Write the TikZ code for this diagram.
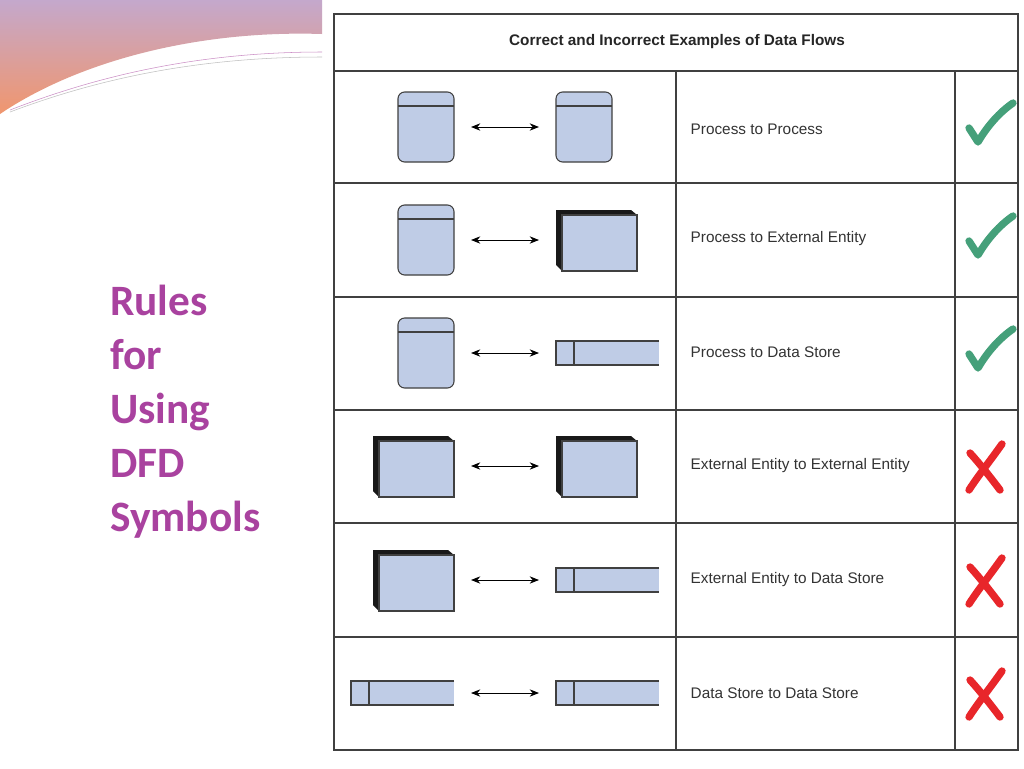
\documentclass[tikz,border=0pt]{standalone}
\usepackage{fontspec}
\setmainfont{Liberation Sans}
\newfontfamily\calfont{Carlito}
\usetikzlibrary{arrows.meta}
\definecolor{boxblue}{HTML}{BFCCE6}
\definecolor{okgreen}{HTML}{45A07A}
\definecolor{badred}{HTML}{E8262A}
\definecolor{ttl}{HTML}{A9429F}
\newcommand\procshape[2]{\draw[proc] (398,#1-35) rectangle (454,#1+35); \draw[black!75,line width=0.8pt] (398,#1-21) -- (454,#1-21);
 \node[inner sep=0] (#2) at (426,#1) {};}
\newcommand\entshape[3]{\fill[black!90] (#1-6,#2-30) -- (#1+69,#2-30) -- (#1+75,#2-25) -- (#1+75,#2+31) -- (#1,#2+31) -- (#1-6,#2+25) -- cycle;
 \draw[black!75,line width=0.8pt,fill=boxblue] (#1,#2-25) rectangle (#1+75,#2+31); \node[inner sep=0] (#3) at (#1+37,#2) {};}
\newcommand\dstore[3]{\fill[boxblue] (#1,#2-12) rectangle (#1+103,#2+12);
 \draw[black!75,line width=0.8pt] (#1+103,#2-12) -- (#1,#2-12) -- (#1,#2+12) -- (#1+103,#2+12); \draw[black!75,line width=0.8pt] (#1+18,#2-12) -- (#1+18,#2+12);
 \node[inner sep=0] (#3) at (#1+50,#2) {};}
\begin{document}
\begin{tikzpicture}[x=0.75pt,y=-0.75pt,
  proc/.style={draw=black!75,line width=0.8pt,fill=boxblue,rounded corners=5pt},
  flow/.style={<->,>={Stealth[length=7pt,width=5.5pt]},line width=0.7pt},
  lbl/.style={anchor=west,font=\fontsize{11.5}{13}\selectfont,text=black!80},
  grid/.style={draw=black!75,line width=0.8pt},
  chk/.style={draw=okgreen,line width=5.5pt,line cap=round,line join=round},
  crs/.style={draw=badred,line width=5.5pt,line cap=round}]
\useasboundingbox (0,0) rectangle (1024,768);
\fill[white] (0,0) rectangle (1024,768);
% decoration
\shade[top color={rgb,255:red,196;green,168;blue,204},bottom color={rgb,255:red,240;green,150;blue,110}]
 (0,0) -- (322,0) -- (322,34) .. controls (200,30) and (80,60) .. (0,114) -- cycle;
\draw[ttl!60,line width=0.4pt] (10,110) .. controls (100,75) and (200,52) .. (322,52);
\draw[gray!50,line width=0.4pt] (10,112) .. controls (100,78) and (200,57) .. (322,57);
% title
\node[anchor=north west,font=\calfont\bfseries\fontsize{32.5}{40.5}\selectfont,text=ttl,align=left,inner sep=0] (title) at (110,285)
 {Rules\\for\\Using\\DFD\\Symbols};
% table
\draw[grid] (334,14) rectangle (1018,750);
\foreach \y in {71,183,297,410,523,637} \draw[grid] (334,\y) -- (1018,\y);
\draw[grid] (676,71) -- (676,750);
\draw[grid] (955,71) -- (955,750);
\node[font=\bfseries\fontsize{11.5}{13}\selectfont,text=black!85] (hdr) at (677,42) {Correct and Incorrect Examples of Data Flows};
% shapes
\procshape{127}{a1}
\draw[proc] (556,92) rectangle (612,162); \draw[black!75,line width=0.8pt] (556,106) -- (612,106);
\node[inner sep=0] (b1) at (584,127) {};
\procshape{240}{a2} \entshape{562}{240}{b2}
\procshape{353}{a3} \dstore{556}{353}{b3}
\entshape{379}{466}{a4} \entshape{562}{466}{b4}
\entshape{379}{580}{a5} \dstore{556}{580}{b5}
\dstore{351}{693}{a6} \dstore{556}{693}{b6}
\foreach \y/\n in {127/1,240/2,353/3,466/4,580/5,693/6}{
 \coordinate (l\n) at (471,\y); \coordinate (r\n) at (539,\y); \draw[flow] (l\n) -- (r\n);}
% labels
\node[lbl] (t1) at (686,129) {Process to Process};
\node[lbl] (t2) at (686,239) {Process to External Entity};
\node[lbl] (t3) at (686,352) {Process to Data Store};
\node[lbl] (t4) at (686,466) {External Entity to External Entity};
\node[lbl] (t5) at (686,580) {External Entity to Data Store};
\node[lbl] (t6) at (686,693) {Data Store to Data Store};
% checks
\foreach \y in {127,240,353}{
 \draw[chk] (969,\y+1) -- (978,\y+15) .. controls (988,\y-2) and (1000,\y-15) .. (1013,\y-24);}
% crosses
\foreach \y in {466,580,693}{
 \draw[crs] (1002,\y-22) .. controls (990,\y-5) and (978,\y+10) .. (969,\y+24);
 \draw[crs] (970,\y-13) .. controls (980,\y-2) and (991,\y+12) .. (1000,\y+24);}
\end{tikzpicture}
\end{document}
